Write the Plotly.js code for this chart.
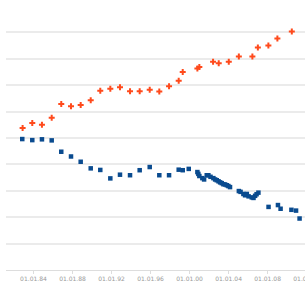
<!DOCTYPE html>
<html><head><meta charset="utf-8">
<script src="https://cdn.plot.ly/plotly-3.0.1.min.js"></script>
<style>html,body{margin:0;padding:0;background:#fff;overflow:hidden;width:305px;height:286px}#c{width:312px;height:286px}</style>
</head><body><div id="c"></div>
<script>
const orangeDates = ['1982-11-20','1983-11-17','1984-11-13','1985-11-13','1986-11-06','1987-11-06','1988-11-02','1989-11-13','1990-11-06','1991-11-17','1992-11-13','1993-11-24','1994-11-20','1995-12-01','1996-11-24','1997-11-24','1998-11-20','1999-04-20','2000-10-20','2001-01-01','2002-05-30','2002-12-28','2004-01-08','2005-01-19','2006-06-10','2007-01-01','2008-01-30','2009-01-01','2010-06-25'];
const orangeValues = [5.38,5.57,5.50,5.77,6.29,6.20,6.25,6.43,6.79,6.87,6.92,6.77,6.77,6.83,6.76,6.96,7.17,7.50,7.63,7.69,7.89,7.83,7.89,8.09,8.09,8.43,8.50,8.77,9.03];
const blueDates = ['1982-11-07','1983-11-17','1984-11-13','1985-11-13','1986-11-06','1987-11-06','1988-11-02','1989-11-13','1990-11-06','1991-11-17','1992-11-13','1993-11-24','1994-11-20','1995-12-01','1996-11-24','1997-11-24','1998-11-20','1999-04-20','1999-12-01','2000-10-20','2000-11-24','2001-01-01','2001-04-23','2001-06-28','2001-10-05','2001-12-05','2002-02-24','2002-06-10','2002-08-15','2002-10-15','2002-12-20','2003-02-18','2003-04-20','2003-06-20','2003-08-22','2003-10-27','2003-12-24','2004-02-24','2005-01-19','2005-03-25','2005-07-08','2005-09-09','2005-11-14','2006-01-19','2006-05-18','2006-07-22','2006-09-20','2006-11-14','2007-01-22','2008-02-05','2009-01-22','2009-05-01','2010-06-10','2010-12-01','2011-04-12'];
const blueValues = [4.96,4.92,4.95,4.91,4.48,4.30,4.10,3.85,3.79,3.47,3.61,3.59,3.78,3.90,3.59,3.59,3.80,3.78,3.83,3.71,3.64,3.56,3.48,3.43,3.59,3.59,3.53,3.48,3.43,3.40,3.36,3.32,3.29,3.25,3.24,3.21,3.18,3.14,2.99,2.96,2.88,2.83,2.88,2.79,2.75,2.73,2.81,2.87,2.93,2.39,2.46,2.32,2.28,2.25,1.95];
const tickDates = ['1984-01-01','1988-01-01','1992-01-01','1996-01-01','2000-01-01','2004-01-01','2008-01-01','2012-01-01'];
const tickLabels = ['01.01.84','01.01.88','01.01.92','01.01.96','01.01.00','01.01.04','01.01.08','01.01.12'];

const traces = [
  {x: orangeDates, y: orangeValues, type:'scatter', mode:'markers',
   marker:{symbol:'cross', size:5, color:'#ff4a1c', line:{width:0}}},
  {x: blueDates, y: blueValues, type:'scatter', mode:'markers',
   marker:{symbol:'square', size:4.5, color:'#0a4b8f', line:{width:0}}}
];
const layout = {
  width:312, height:286,
  margin:{l:6, r:0, t:6, b:16},
  paper_bgcolor:'#fff', plot_bgcolor:'#fff',
  showlegend:false,
  xaxis:{type:'date', range:['1981-03-08','2012-07-20'],
    tickmode:'array', tickvals:tickDates, ticktext:tickLabels,
    ticklabeloverflow:'allow',
    showgrid:false, zeroline:false,
    showline:true, linecolor:'#dddddd', linewidth:1,
    ticks:'outside', ticklen:3, tickcolor:'#dddddd',
    tickfont:{family:'DejaVu Sans', size:6, color:'#999'}},
  yaxis:{range:[0,10], dtick:1, showticklabels:false,
    showgrid:true, gridcolor:'#ebebeb', gridwidth:2,
    zeroline:false, showline:false, ticks:''}
};
Plotly.newPlot('c', traces, layout, {staticPlot:true, displayModeBar:false});
</script></body></html>
